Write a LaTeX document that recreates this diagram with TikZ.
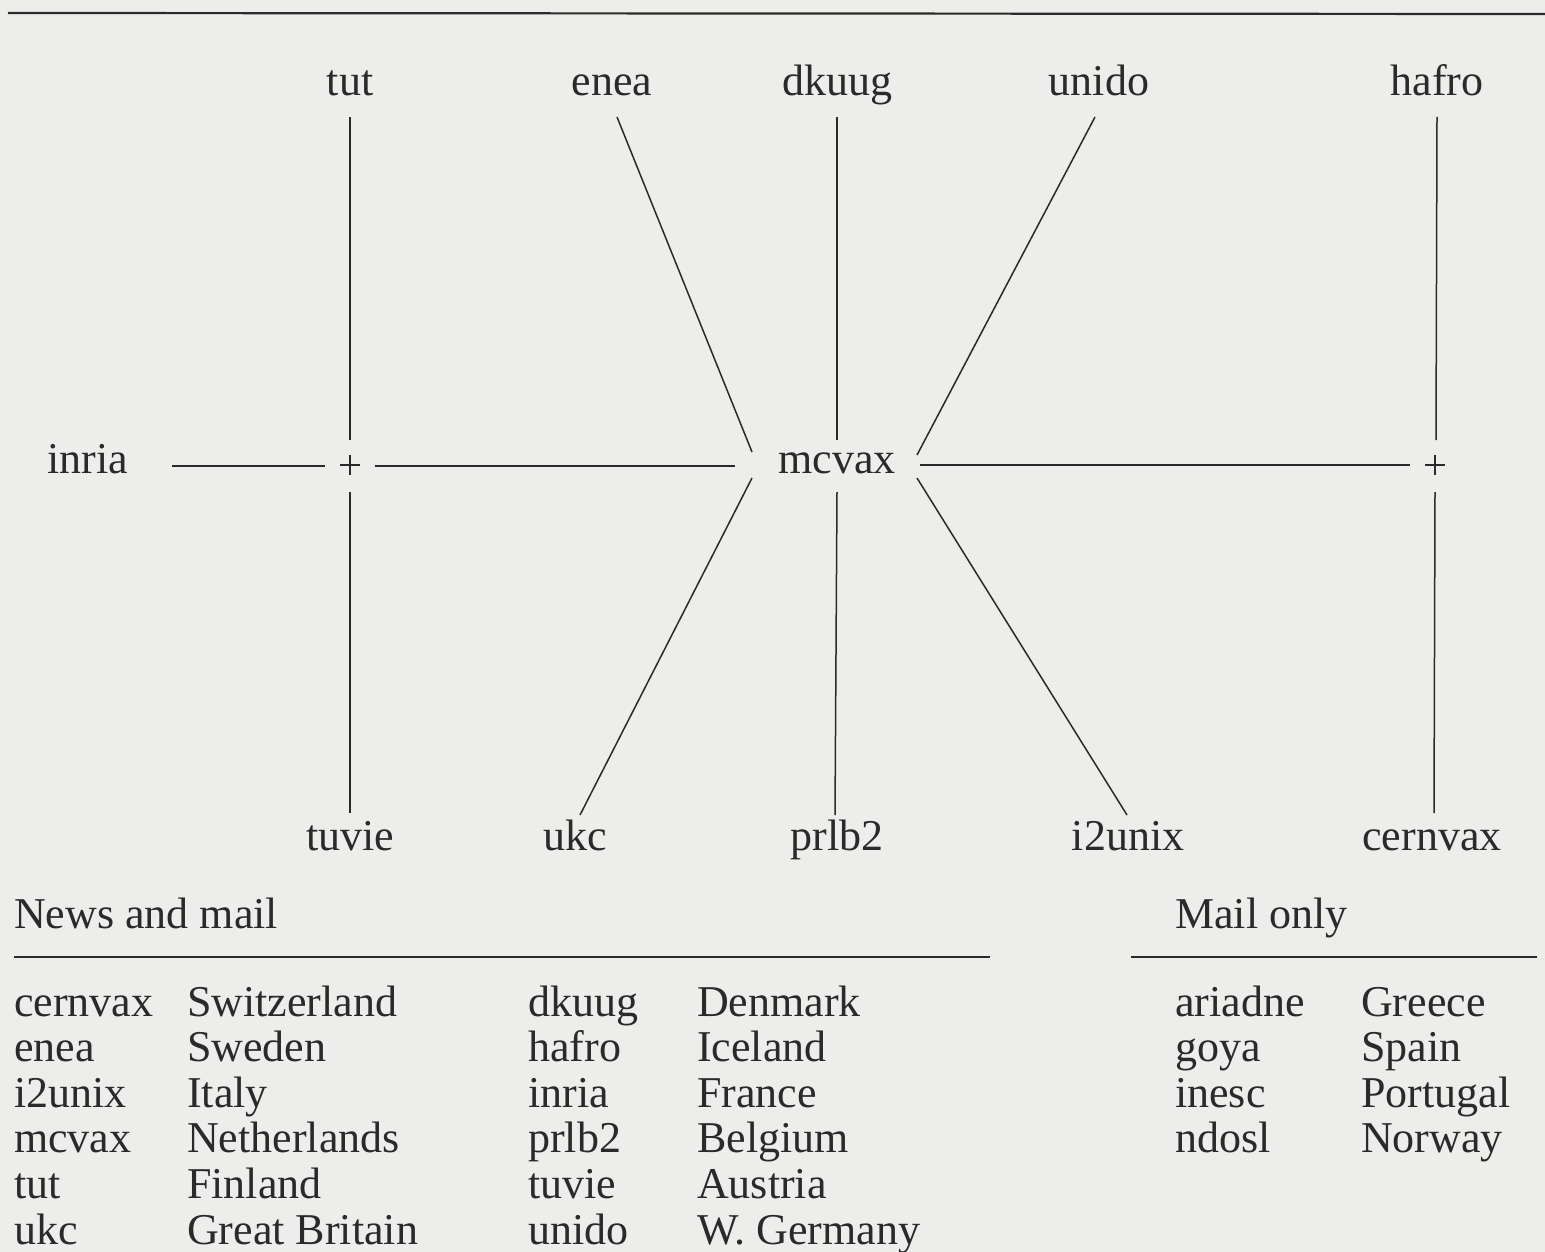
\documentclass[tikz,border=0pt]{standalone}
\usepackage{fontspec}
\setmainfont{Liberation Serif}
\definecolor{bg}{HTML}{EDEDEB}
\definecolor{ink}{HTML}{2A2A2A}
\begin{document}
\begin{tikzpicture}[x=1pt,y=-1pt,
  lbl/.style={anchor=base,inner sep=0pt,text=ink,font=\fontsize{44}{52}\selectfont},
  tl/.style={anchor=base west,inner sep=0pt,text=ink,font=\fontsize{44}{52}\selectfont},
  wire/.style={draw=ink,line width=1.5pt},
  rule/.style={draw=ink,line width=2.2pt}]
\fill[bg] (0,0) rectangle (1545,1252);
\useasboundingbox (0,0) rectangle (1545,1252);
% top rule
\coordinate (topL) at (8,13);
\coordinate (topR) at (1545,14);
\draw[rule] (topL) -- (topR);
% labels
\node[lbl] (tut) at (350,96) {tut};
\node[lbl] (enea) at (612,96) {enea};
\node[lbl] (dkuug) at (837,96) {dkuug};
\node[lbl] (unido) at (1099,96) {unido};
\node[lbl] (hafro) at (1437,96) {hafro};
\node[lbl] (inria) at (88,473) {inria};
\node[lbl] (mcvax) at (837,473) {mcvax};
\node[lbl] (tuvie) at (350,850) {tuvie};
\node[lbl] (ukc) at (575,850) {ukc};
\node[lbl] (prlb2) at (837,850) {prlb2};
\node[lbl] (i2unix) at (1128,850) {i2unix};
\node[lbl] (cernvax) at (1432,850) {cernvax};
% junctions
\coordinate (jL) at (350,465);
\coordinate (jR) at (1435,465);
\draw[draw=ink,line width=2pt] (jL) +(-10,0) -- +(10,0) (jL) +(0,-10) -- +(0,10);
\draw[draw=ink,line width=2pt] (jR) +(-10,0) -- +(10,0) (jR) +(0,-10) -- +(0,10);
% endpoint coordinates
\coordinate (tutE) at (350,117);   \coordinate (jLn) at (350,440);
\coordinate (jLs) at (350,492);    \coordinate (tuvieE) at (350,813);
\coordinate (inriaE) at (172,466); \coordinate (jLw) at (325,466);
\coordinate (jLe) at (375,466);    \coordinate (mW) at (735,466);
\coordinate (mE) at (920,465);     \coordinate (jRw) at (1410,465);
\coordinate (hafroE) at (1437,117);\coordinate (jRn) at (1436,440);
\coordinate (jRs) at (1435,492);   \coordinate (cernvaxE) at (1434,813);
\coordinate (eneaE) at (617,117);  \coordinate (mNW) at (752,452);
\coordinate (dkuugE) at (837,117); \coordinate (mN) at (837,440);
\coordinate (unidoE) at (1095,117);\coordinate (mNE) at (917,455);
\coordinate (ukcE) at (580,815);   \coordinate (mSW) at (752,478);
\coordinate (prlbE) at (835,815);  \coordinate (mS) at (837,492);
\coordinate (i2unixE) at (1127,815); \coordinate (mSE) at (917,478);
% connectors
\draw[wire] (tutE) -- (jLn);
\draw[wire] (jLs) -- (tuvieE);
\draw[wire] (inriaE) -- (jLw);
\draw[wire] (jLe) -- (mW);
\draw[wire] (mE) -- (jRw);
\draw[wire] (hafroE) -- (jRn);
\draw[wire] (jRs) -- (cernvaxE);
\draw[wire] (eneaE) -- (mNW);
\draw[wire] (dkuugE) -- (mN);
\draw[wire] (unidoE) -- (mNE);
\draw[wire] (mSW) -- (ukcE);
\draw[wire] (mS) -- (prlbE);
\draw[wire] (mSE) -- (i2unixE);
% legend headings
\node[tl] (news) at (14,928) {News and mail};
\node[tl] (mail) at (1175,928) {Mail only};
\coordinate (r1a) at (14,957); \coordinate (r1b) at (990,957);
\coordinate (r2a) at (1131,957); \coordinate (r2b) at (1537,957);
\draw[draw=ink,line width=1.8pt] (r1a) -- (r1b);
\draw[draw=ink,line width=1.8pt] (r2a) -- (r2b);
% table
\foreach \i/\a/\b/\c/\d in {0/cernvax/Switzerland/dkuug/Denmark,
  1/enea/Sweden/hafro/Iceland,
  2/i2unix/Italy/inria/France,
  3/mcvax/Netherlands/prlb2/Belgium,
  4/tut/Finland/tuvie/Austria,
  5/ukc/Great Britain/unido/W. Germany}{
  \node[tl] (ta\i) at (14,1016+45.6*\i) {\a};
  \node[tl] (tb\i) at (187,1016+45.6*\i) {\b};
  \node[tl] (tc\i) at (528,1016+45.6*\i) {\c};
  \node[tl] (td\i) at (697,1016+45.6*\i) {\d};
}
\foreach \i/\a/\b in {0/ariadne/Greece,1/goya/Spain,2/inesc/Portugal,3/ndosl/Norway}{
  \node[tl] (ma\i) at (1175,1016+45.6*\i) {\a};
  \node[tl] (mb\i) at (1361,1016+45.6*\i) {\b};
}
\end{tikzpicture}
\end{document}
